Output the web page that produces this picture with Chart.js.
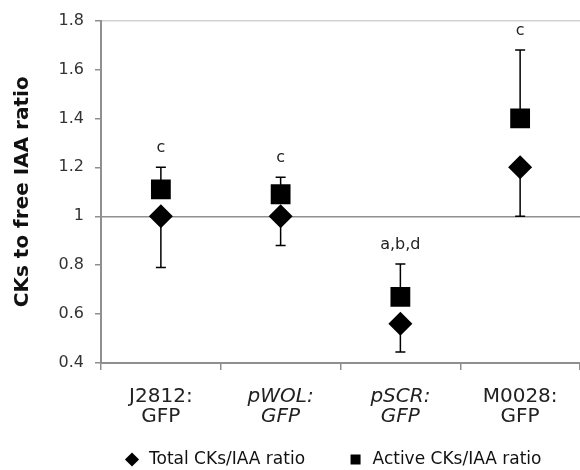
<!DOCTYPE html>
<html>
<head>
<meta charset="utf-8">
<script src="https://cdn.jsdelivr.net/npm/chart.js@4"></script>
<style>
  html, body { margin: 0; padding: 0; background: #fff; overflow: hidden; }
  #wrap { width: 580px; height: 470px; }
</style>
</head>
<body>
<div id="wrap"><canvas id="chart"></canvas></div>
<script>
// Categories and values
const CATEGORIES = [['J2812:', 'GFP'], ['pWOL:', 'GFP'], ['pSCR:', 'GFP'], ['M0028:', 'GFP']]
const ITALIC = [false, true, true, false]
const TOTAL_RATIO = [1.0, 1.0, 0.56, 1.2]
const ACTIVE_RATIO = [1.11, 1.09, 0.67, 1.4]
// Error bars: lower whisker on Total, upper whisker on Active
const TOTAL_LOWER = [0.79, 0.88, 0.445, 1.0]
const ACTIVE_UPPER = [1.2, 1.16, 0.805, 1.68]
const SIG_LETTERS = ['c', 'c', 'a,b,d', 'c']

const FONT = '"DejaVu Sans", sans-serif'
const AXIS = '#8f8f8f'

// Whiskers behind the markers, significance letters above them
const errorBars = {
  id: 'errorBars',
  beforeDatasetsDraw(chart) {
    const { ctx, scales: { x, y } } = chart
    ctx.save()
    ctx.strokeStyle = '#000'
    ctx.lineWidth = 1.5
    const cap = 5
    const whisker = (i, from, to) => {
      const px = x.getPixelForValue(i)
      const y0 = y.getPixelForValue(from), y1 = y.getPixelForValue(to)
      ctx.beginPath()
      ctx.moveTo(px, y0); ctx.lineTo(px, y1)
      ctx.moveTo(px - cap, y1); ctx.lineTo(px + cap, y1)
      ctx.stroke()
    }
    CATEGORIES.forEach((_, i) => {
      whisker(i, TOTAL_RATIO[i], TOTAL_LOWER[i])
      whisker(i, ACTIVE_RATIO[i], ACTIVE_UPPER[i])
    })
    ctx.restore()
  },
  afterDatasetsDraw(chart) {
    const { ctx, scales: { x, y } } = chart
    ctx.save()
    ctx.fillStyle = '#222'
    ctx.font = '16px ' + FONT
    ctx.textAlign = 'center'
    ctx.textBaseline = 'middle'
    SIG_LETTERS.forEach((s, i) => {
      ctx.fillText(s, x.getPixelForValue(i), y.getPixelForValue(ACTIVE_UPPER[i]) - 19)
    })
    ctx.restore()
  }
}

// Nudge the legend row: roughly centred under the plot area, close to the bottom edge
const legendNudge = {
  id: 'legendNudge',
  afterLayout(chart) {
    const lg = chart.legend
    if (!lg) return
    const dx = (chart.chartArea.left + chart.chartArea.right) / 2 - (lg.left + lg.right) / 2 - 8
    lg.left += dx; lg.right += dx
    lg.top -= 19; lg.bottom -= 19
  }
}

new Chart(document.getElementById('chart'), {
  type: 'line',
  data: {
    labels: CATEGORIES,
    datasets: [
      { label: 'Total CKs/IAA ratio', data: TOTAL_RATIO, showLine: false, pointStyle: 'rectRot',
        pointRadius: 12, pointHoverRadius: 12, backgroundColor: '#000', borderColor: '#000', borderWidth: 0 },
      { label: 'Active CKs/IAA ratio', data: ACTIVE_RATIO, showLine: false, pointStyle: 'rect',
        pointRadius: 14, pointHoverRadius: 14, backgroundColor: '#000', borderColor: '#000', borderWidth: 0 }
    ]
  },
  options: {
    responsive: true,
    maintainAspectRatio: false,
    animation: false,
    layout: { autoPadding: false, padding: { top: 6, right: 0, left: 0, bottom: -27 } },
    plugins: {
      tooltip: { enabled: false },
      legend: {
        position: 'bottom',
        labels: { usePointStyle: true, boxHeight: 10, padding: 42, color: '#111', font: { family: FONT, size: 17 } }
      }
    },
    scales: {
      x: {
        offset: true,
        afterFit: s => { s.paddingLeft = 0; s.paddingRight = 0; s.height = 65 },
        grid: { offset: true, drawOnChartArea: false, tickLength: 7, color: AXIS, lineWidth: 1.5 },
        border: { color: AXIS, width: 2 },
        ticks: {
          color: '#222', padding: 16,
          font: c => ({ family: FONT, size: 20, style: ITALIC[c.index] ? 'italic' : 'normal', lineHeight: 1.04 })
        }
      },
      y: {
        min: 0.4, max: 1.8,
        afterFit: s => { s.width = 101 },
        ticks: { stepSize: 0.2, color: '#333', padding: 11, font: { family: FONT, size: 16 }, callback: v => String(+v.toFixed(1)) },
        grid: {
          tickLength: 6, tickColor: AXIS, lineWidth: 1.5,
          color: c => Math.abs(c.tick.value - 1) < 1e-6 ? '#8f8f8f' : Math.abs(c.tick.value - 1.8) < 1e-6 ? '#d2d2d2' : 'transparent'
        },
        border: { color: AXIS, width: 2 },
        title: { display: true, text: 'CKs to free IAA ratio', color: '#111', padding: { top: 11, bottom: 0 }, font: { family: FONT, size: 20, weight: 'bold' } }
      }
    }
  },
  plugins: [errorBars, legendNudge]
})
</script>
</body>
</html>
